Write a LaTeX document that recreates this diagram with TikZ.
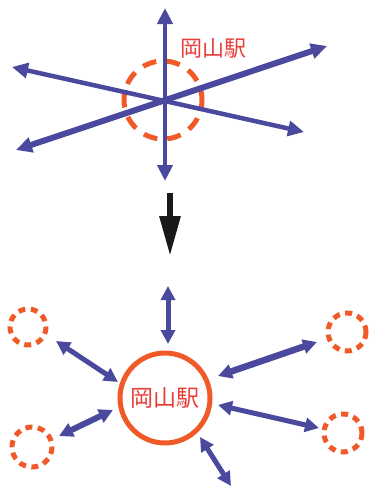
\documentclass[tikz,border=0pt]{standalone}
\usepackage{fontspec}
\newfontfamily\cjk{Noto Sans CJK JP}
\usetikzlibrary{arrows.meta}
\definecolor{blu}{RGB}{75,73,158}
\definecolor{org}{RGB}{240,90,40}
\definecolor{lab}{RGB}{232,60,55}
\tikzset{
  dbl/.style={blu, line width=#1, {Triangle[length=16pt,width=15pt]}-{Triangle[length=16pt,width=15pt]}},
  dbs/.style={blu, line width=#1, {Triangle[length=14pt,width=14pt]}-{Triangle[length=14pt,width=14pt]}},
  sring/.style={org, line width=5pt, dash pattern=on 7pt off 5.5pt},
}
\begin{document}
\begin{tikzpicture}[x=1pt,y=-1pt]
\useasboundingbox (0,0) rectangle (370,488);
% top diagram
\coordinate (c) at (165,100);
\coordinate (vt) at (165,8);
\coordinate (vb) at (165,181);
\coordinate (ur) at (327,46);
\coordinate (ll) at (16,150);
\coordinate (ul) at (12,67);
\coordinate (lr) at (304,132);
\draw[org, line width=5pt, dash pattern=on 14pt off 10pt, dash phase=5pt] (163,100) circle (39);
\draw[dbl=4.5pt] (vt) -- (vb);
\draw[dbl=6pt] (ll) -- (ur);
\draw[dbl=4.5pt] (ul) -- (lr);
\node[lab, font=\cjk\fontsize{22}{22}\selectfont, inner sep=0] (t1) at (213,48) {岡山駅};
% black arrow
\coordinate (ba) at (170,193);
\coordinate (bb) at (170,256);
\draw[black!90, line width=6pt, -{Triangle[length=40pt,width=20pt]}] (ba) -- (bb);
% bottom diagram
\node[draw=org, line width=5pt, circle, minimum size=90pt, inner sep=0,
      text=lab, font=\cjk\fontsize{23}{23}\selectfont] (st) at (165,398) {岡山駅};
\draw[sring] (28,327) circle (18);
\draw[sring] (347,332) circle (19);
\draw[sring] (32,447) circle (20);
\draw[sring] (343,433) circle (19);
\coordinate (a1) at (168,286); \coordinate (a2) at (168,344);
\coordinate (b1) at (56,341);  \coordinate (b2) at (118,382);
\coordinate (d1) at (59,436);  \coordinate (d2) at (113,410);
\coordinate (e1) at (218,376); \coordinate (e2) at (317,342);
\coordinate (f1) at (218,405); \coordinate (f2) at (319,428);
\coordinate (g1) at (200,437); \coordinate (g2) at (231,486);
\draw[dbs=5pt] (a1) -- (a2);
\draw[dbs=5pt] (b1) -- (b2);
\draw[dbs=6pt] (d1) -- (d2);
\draw[dbs=6.5pt] (e1) -- (e2);
\draw[dbs=5pt] (f1) -- (f2);
\draw[dbs=5pt] (g1) -- (g2);
\end{tikzpicture}
\end{document}
